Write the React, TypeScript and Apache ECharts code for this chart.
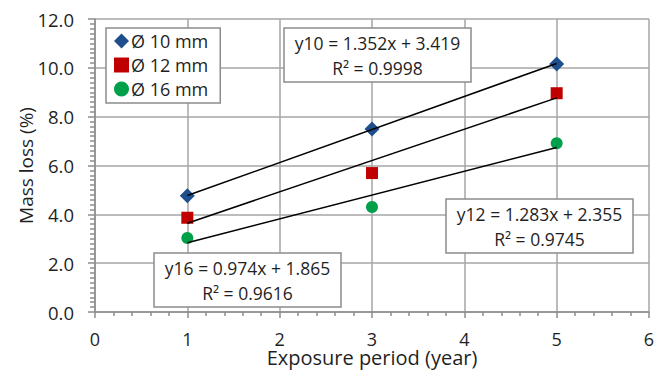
import React, { useEffect, useRef } from "react";
import * as echarts from "echarts";

const xYears = [1, 3, 5];
const d10 = [4.76, 7.5, 10.16];
const d12 = [3.86, 5.69, 8.96];
const d16 = [3.03, 4.3, 6.91];
const seriesNames = ["Ø 10 mm", "Ø 12 mm", "Ø 16 mm"];
const slopes = [1.352, 1.283, 0.974];
const intercepts = [3.419, 2.355, 1.865];
const r2 = ["0.9998", "0.9745", "0.9616"];
const eqLabels = ["y10", "y12", "y16"];
const colors = ["#1F4E8C", "#C00000", "#00A04A"];
const symbols = ["diamond", "rect", "circle"];
const symbolSizes = [15, 12, 12];

const FONT = "Open Sans";
const TXT = "#1f1f1f";

export default function App() {
  const ref = useRef<HTMLDivElement>(null);
  useEffect(() => {
    if (!ref.current) return;
    const chart = echarts.init(ref.current, undefined, { renderer: "svg" });
    const dataSets = [d10, d12, d16];
    const scatter = dataSets.map((d, i) => ({
      name: seriesNames[i],
      type: "scatter",
      data: xYears.map((x, j) => [x, d[j]]),
      symbol: symbols[i],
      symbolSize: symbolSizes[i],
      itemStyle: { color: colors[i], opacity: 1 },
      z: 3,
    }));
    const trends = slopes.map((m, i) => ({
      name: "trend" + i,
      type: "line",
      data: [xYears[0], xYears[xYears.length - 1]].map((x) => [x, m * x + intercepts[i]]),
      symbol: "none",
      lineStyle: { color: "#000", width: 1.5 },
      z: 4,
    }));
    const box = (x: number, y: number, i: number) => ({
      type: "group",
      x,
      y,
      z: 100,
      children: [
        {
          type: "rect",
          z: 100,
          shape: { x: 0, y: 0, width: 187, height: 54 },
          style: { fill: "#fff", stroke: "#8c8c8c", lineWidth: 1.5 },
        },
        {
          type: "text",
          z: 101,
          x: 93.5,
          y: 27,
          style: {
            text: `${eqLabels[i]} = ${slopes[i].toFixed(3)}x + ${intercepts[i].toFixed(3)}\nR² = ${r2[i]}`,
            font: `17.5px "${FONT}"`,
            fill: TXT,
            align: "center",
            verticalAlign: "middle",
            lineHeight: 25,
          },
        },
      ],
    });
    chart.setOption({
      animation: false,
      backgroundColor: "#fff",
      grid: { left: 95, right: 15, top: 19, bottom: 61, outerBoundsMode: "none", containLabel: false },
      xAxis: {
        type: "value",
        min: 0,
        max: 6,
        interval: 1,
        name: "Exposure period (year)",
        nameLocation: "middle",
        nameGap: 35,
        nameMoveOverlap: false,
        nameTextStyle: { fontFamily: FONT, fontSize: 20, lineHeight: 20, color: TXT },
        axisLine: { lineStyle: { color: "#8c8c8c", width: 1.5 } },
        axisTick: { show: true, length: 6, lineStyle: { color: "#8c8c8c", width: 1.5 } },
        minorTick: { show: true, splitNumber: 5, length: 4, lineStyle: { color: "#8c8c8c", width: 1.5 } },
        axisLabel: { fontFamily: FONT, fontSize: 18, lineHeight: 14, color: TXT, margin: 20 },
        splitLine: { show: true, lineStyle: { color: "#a6a6a6", width: 1.5 } },
      },
      yAxis: {
        type: "value",
        min: 0,
        max: 12,
        interval: 2,
        name: "Mass loss (%)",
        nameLocation: "middle",
        nameGap: 60,
        nameMoveOverlap: false,
        nameTextStyle: { fontFamily: FONT, fontSize: 19, color: TXT },
        axisLine: { show: true, lineStyle: { color: "#8c8c8c", width: 1.5 } },
        axisTick: { show: true, length: 7, lineStyle: { color: "#8c8c8c", width: 1.5 } },
        minorTick: { show: true, splitNumber: 10, length: 5, lineStyle: { color: "#8c8c8c", width: 1.5 } },
        axisLabel: {
          fontFamily: FONT,
          fontSize: 18.5,
          color: TXT,
          margin: 21,
          formatter: (v: number) => v.toFixed(1),
        },
        splitLine: { show: true, lineStyle: { color: "#a6a6a6", width: 1.5 } },
      },
      legend: {
        data: seriesNames,
        orient: "vertical",
        left: 106,
        top: 28,
        backgroundColor: "#fff",
        borderColor: "#8c8c8c",
        borderWidth: 1.5,
        borderRadius: 0,
        padding: [4, 12, 5, 8],
        itemGap: 6,
        itemWidth: 15,
        itemHeight: 15,
        textStyle: { fontFamily: FONT, fontSize: 18, color: TXT, padding: [0, 0, 0, -3] },
        z: 10,
      },
      graphic: [box(284, 28, 0), box(446, 199, 1), box(154, 253, 2)],
      series: [...scatter, ...trends],
    });
    return () => chart.dispose();
  }, []);
  return (
    <div
      ref={ref}
      style={{ position: "fixed", left: 0, top: 0, width: 664, height: 373 }}
    />
  );
}
